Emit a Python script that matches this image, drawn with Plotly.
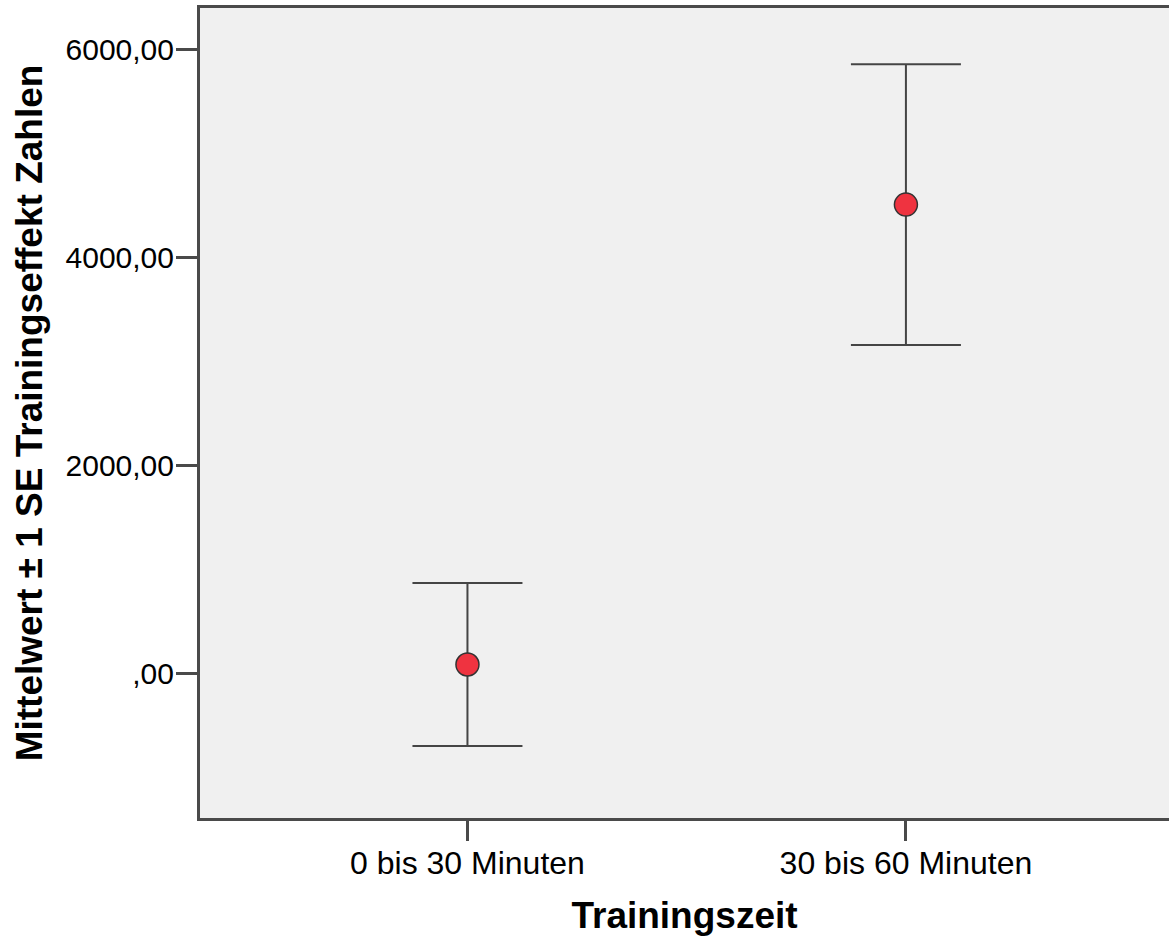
import plotly.graph_objects as go

categories = ["0 bis 30 Minuten", "30 bis 60 Minuten"]
means = [91, 4510]
se = [783, 1349]
ytick_vals = [0, 2000, 4000, 6000]
ytick_text = [",00", "2000,00", "4000,00", "6000,00"]

FONT = "Liberation Sans, Arial, sans-serif"
LINE = "#4a4a4a"

fig = go.Figure()
fig.add_trace(go.Scatter(
    x=[0, 1],
    y=means,
    mode="markers",
    marker=dict(size=23, color="#ef3340", line=dict(width=1.5, color="#333333")),
    error_y=dict(type="data", array=se, symmetric=True, color="#454545",
                 thickness=2, width=55),
    showlegend=False,
    hoverinfo="skip",
))

fig.update_layout(
    width=1169, height=936,
    margin=dict(l=200, r=0, t=8, b=118),
    paper_bgcolor="white",
    plot_bgcolor="#f0f0f0",
    font=dict(family=FONT, color="black"),
    xaxis=dict(
        range=[-0.61, 1.60],
        tickvals=[0, 1], ticktext=categories,
        ticks="outside", ticklen=20, tickwidth=2.5, tickcolor=LINE,
        tickfont=dict(size=32, family=FONT, color="black"),
        ticklabelstandoff=-5,
        showline=True, linecolor=LINE, linewidth=3, mirror=True,
        showgrid=False, zeroline=False,
        title=dict(text="<b>Trainingszeit</b>", font=dict(size=37, family=FONT, color="black"), standoff=24),
        fixedrange=True,
    ),
    yaxis=dict(
        range=[-1384, 6399],
        tickvals=ytick_vals, ticktext=ytick_text,
        ticks="outside", ticklen=21, tickwidth=2.5, tickcolor=LINE,
        tickfont=dict(size=30, family=FONT, color="black"),
        ticklabelstandoff=-4,
        showline=True, linecolor=LINE, linewidth=3, mirror=False,
        showgrid=False, zeroline=False,
        title=dict(text="<b>Mittelwert ± 1 SE Trainingseffekt Zahlen</b>", font=dict(size=37, family=FONT, color="black"), standoff=12),
        fixedrange=True,
    ),
)

fig.write_html("out.html", config={"displayModeBar": False},
               post_script="document.body.style.margin='0';")
